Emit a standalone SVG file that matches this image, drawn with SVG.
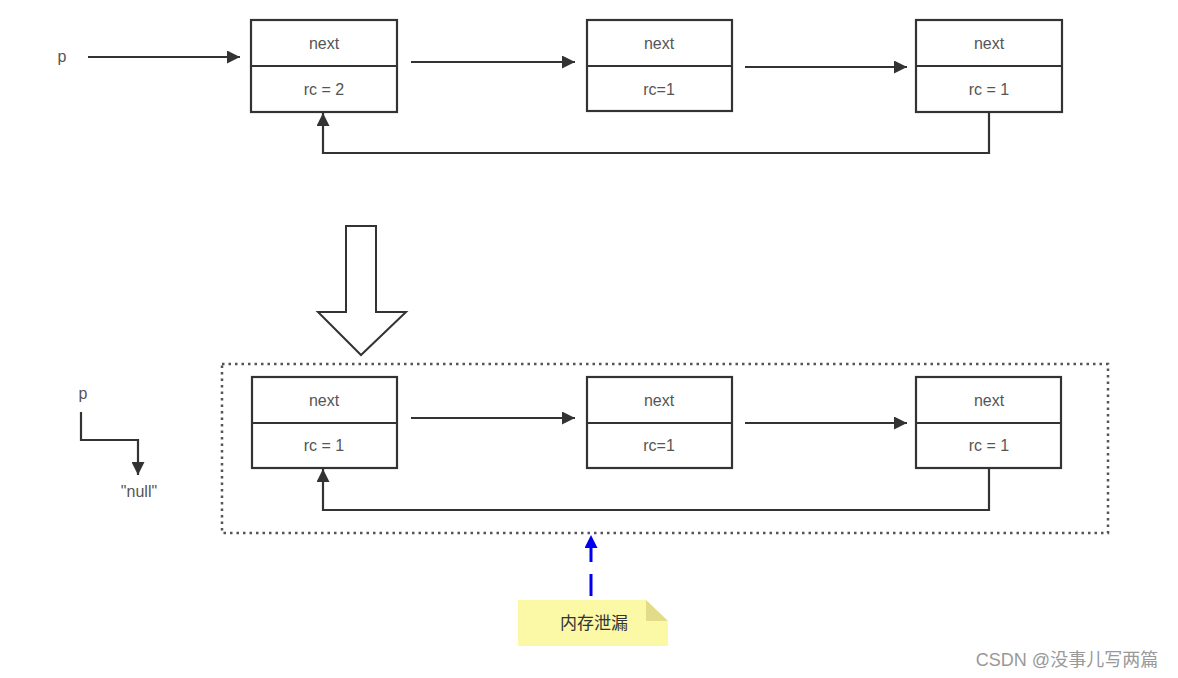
<svg xmlns="http://www.w3.org/2000/svg" width="1178" height="678" viewBox="0 0 1178 678">
<style>
.box{fill:#fff;stroke:#333;stroke-width:2.2}
.div{stroke:#333;stroke-width:2.2}
.t{font-family:"Liberation Sans",Arial,sans-serif;font-size:16px;fill:#555;text-anchor:middle}
.c{fill:none;stroke:#333;stroke-width:2.2}
</style>
<defs>
<marker id="ah" viewBox="0 0 10 10" refX="10" refY="5" markerWidth="21" markerHeight="13" markerUnits="userSpaceOnUse" orient="auto">
<path d="M0,0 L10,5 L0,10 z" fill="#333"/>
</marker>
<marker id="ahb" viewBox="0 0 10 10" refX="10" refY="5" markerWidth="19" markerHeight="13" markerUnits="userSpaceOnUse" orient="auto">
<path d="M0,0 L10,5 L0,10 z" fill="#0000ee"/>
</marker>
</defs>
<rect width="1178" height="678" fill="#fff"/>

<text class="t" x="62" y="62">p</text>

<g id="n1"><rect class="box" x="251" y="20" width="146" height="92"/><line class="div" x1="251" y1="66" x2="397" y2="66"/><text class="t" x="324" y="49">next</text><text class="t" x="324" y="95">rc = 2</text></g>
<g id="n2"><rect class="box" x="587" y="20" width="145" height="91"/><line class="div" x1="587" y1="66" x2="732" y2="66"/><text class="t" x="659" y="49">next</text><text class="t" x="659" y="95">rc=1</text></g>
<g id="n3"><rect class="box" x="916" y="20" width="146" height="92"/><line class="div" x1="916" y1="66" x2="1062" y2="66"/><text class="t" x="989" y="49">next</text><text class="t" x="989" y="95">rc = 1</text></g>

<g id="bigarrow"><path d="M346,226 L376,226 L376,312 L406,312 L361,355 L318,312 L346,312 Z" fill="#fff" stroke="#333" stroke-width="2"/></g>

<g id="frame"><rect x="222" y="364" width="886" height="169" fill="none" stroke="#555" stroke-width="2.5" stroke-dasharray="2.5,4"/></g>

<g id="b1"><rect class="box" x="252" y="377" width="145" height="91"/><line class="div" x1="252" y1="423" x2="397" y2="423"/><text class="t" x="324" y="406">next</text><text class="t" x="324" y="451">rc = 1</text></g>
<g id="b2"><rect class="box" x="587" y="377" width="145" height="91"/><line class="div" x1="587" y1="423" x2="732" y2="423"/><text class="t" x="659" y="406">next</text><text class="t" x="659" y="451">rc=1</text></g>
<g id="b3"><rect class="box" x="916" y="377" width="145" height="91"/><line class="div" x1="916" y1="423" x2="1061" y2="423"/><text class="t" x="989" y="406">next</text><text class="t" x="989" y="451">rc = 1</text></g>

<text class="t" x="83" y="399">p</text>
<text class="t" x="139" y="497">"null"</text>

<g id="note"><path d="M518,600 L646,600 L668,621 L668,646 L518,646 Z" fill="#fbf8a6"/><path d="M646,600 L668,621 L646,621 Z" fill="#e2dc8a"/><text x="594" y="629" font-family="'Noto Sans CJK SC',sans-serif" font-size="17" fill="#333" text-anchor="middle">内存泄漏</text></g>

<g id="connectors">
<line class="c" x1="88" y1="57" x2="240" y2="57" marker-end="url(#ah)"/>
<line class="c" x1="411" y1="62" x2="575" y2="62" marker-end="url(#ah)"/>
<line class="c" x1="745" y1="67" x2="907" y2="67" marker-end="url(#ah)"/>
<polyline class="c" points="989,112 989,153 323,153 323,113" marker-end="url(#ah)"/>
<line class="c" x1="411" y1="418" x2="575" y2="418" marker-end="url(#ah)"/>
<line class="c" x1="745" y1="423" x2="907" y2="423" marker-end="url(#ah)"/>
<polyline class="c" points="989,468 989,510 323,510 323,469" marker-end="url(#ah)"/>
<polyline class="c" points="81,412 81,440 138,440 138,475" marker-end="url(#ah)"/>
<line x1="591" y1="596" x2="591" y2="535" stroke="#0000ee" stroke-width="3" stroke-dasharray="22,12" marker-end="url(#ahb)"/>
</g>

<text x="1067" y="666" font-family="'Liberation Sans','Noto Sans CJK SC',sans-serif" font-size="18" fill="#999" text-anchor="middle">CSDN @没事儿写两篇</text>
</svg>
